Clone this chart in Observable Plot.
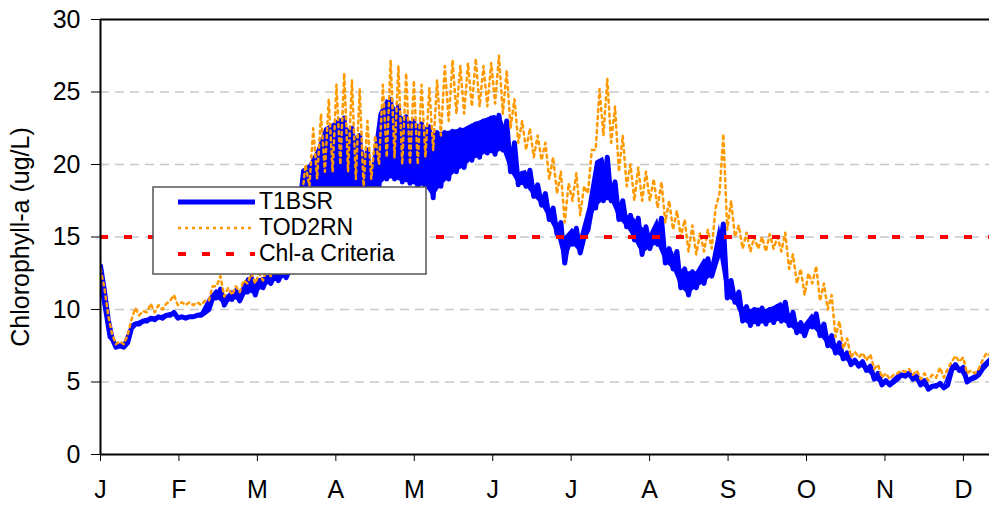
<!DOCTYPE html>
<html>
<head>
<meta charset="utf-8">
<script src="https://cdn.jsdelivr.net/npm/d3@7"></script>
<script src="https://cdn.jsdelivr.net/npm/@observablehq/plot@0.6"></script>
<style>
  html, body { margin: 0; padding: 0; background: white; }
  #chart { position: relative; width: 989px; height: 508px; overflow: hidden; }
</style>
</head>
<body>
<div id="chart"></div>
<script>
// "lo" is the reading at the day, "hi" the reading 1.5 days later (daily swing)
const days = [0,3,6,9,12,15,18,21,24,27,30,33,36,39,42,45,48,51,54,57,60,63,66,69,72,75,78,81,84,87,
  90,93,96,99,102,105,108,111,114,117,120,123,126,129,132,135,138,141,144,147,150,153,156,159,162,165,168,171,174,177,
  180,183,186,189,192,195,198,201,204,207,210,213,216,219,222,225,228,231,234,237,240,243,246,249,252,255,258,261,264,267,
  270,273,276,279,282,285,288,291,294,297,300,303,306,309,312,315,318,321,324,327,330,333,336,339,342,345];

// T1BSR (ug/L)
const blueLo = [13.0,9.3,7.4,7.4,8.7,9.0,9.2,9.3,9.4,9.6,
  9.4,9.4,9.5,9.6,10.0,10.8,10.3,10.7,10.6,11.2,
  11.0,11.5,11.8,12.0,12.2,12.6,16.5,17.5,18.0,18.5,
  18.0,18.5,18.0,17.5,17.0,17.5,18.5,19.0,19.0,18.8,
  18.7,18.5,18.5,17.7,18.5,19.0,19.5,19.8,20.3,20.5,
  20.8,20.7,21.0,19.5,18.6,18.5,17.8,17.2,16.2,15.2,
  13.2,14.5,13.9,15.5,17.0,17.5,17.5,16.2,15.7,14.8,
  13.8,14.2,14.5,13.2,12.8,11.5,11.0,11.5,11.8,12.3,
  14.0,10.8,10.5,9.2,8.9,9.0,9.0,9.1,9.2,8.9,
  8.4,8.2,8.8,8.2,7.5,7.0,6.6,6.2,6.1,5.8,
  5.2,4.8,4.8,5.2,5.4,5.2,4.8,4.5,4.7,4.6,
  5.8,5.8,5.0,5.3,5.9,6.5];
const blueHi = [11.3,8.0,7.5,7.7,9.0,9.2,9.4,9.5,9.6,9.8,
  9.5,9.5,9.6,9.8,10.8,11.4,10.8,11.3,11.2,12.2,
  12.0,12.2,12.4,12.6,12.8,14.5,19.6,20.0,21.0,22.5,
  22.8,23.2,22.5,22.0,21.0,19.5,23.5,24.5,24.0,23.3,
  23.0,22.8,22.6,22.2,22.2,22.3,22.4,22.5,22.8,23.0,
  23.2,23.4,23.0,21.5,19.4,19.6,18.6,18.0,17.0,16.0,
  15.0,15.6,15.0,17.0,20.2,20.5,18.8,17.5,16.5,16.3,
  15.7,15.2,16.3,14.2,14.0,12.8,12.6,12.6,13.5,13.2,
  15.9,12.0,11.2,10.2,10.0,10.1,10.0,10.2,10.5,9.8,
  9.1,9.0,9.7,9.0,8.2,7.7,7.0,6.5,6.4,6.1,
  5.6,5.1,5.0,5.5,5.6,5.4,5.1,4.7,4.9,4.8,
  6.2,6.0,5.2,5.5,6.2,6.7];

// TOD2RN (ug/L)
const orangeLo = [12.8,9.6,7.6,7.6,9.3,9.6,9.8,9.8,10.0,10.6,
  10.3,10.3,10.3,10.3,10.6,11.6,10.9,11.0,11.2,11.8,
  11.8,12.0,12.3,12.8,13.5,14.5,17.5,18.5,19.0,19.5,
  19.5,20.0,19.5,19.0,18.5,19.0,20.0,20.5,20.5,20.0,
  20.0,20.0,20.5,21.0,22.0,23.0,23.5,23.5,24.0,24.0,
  24.0,24.2,23.5,22.5,21.5,21.0,20.5,20.3,19.0,18.0,
  16.0,17.5,16.5,18.0,21.0,22.0,21.5,19.5,18.5,17.5,
  17.5,17.5,17.0,16.0,15.5,15.0,14.0,13.8,14.0,14.2,
  18.0,15.5,15.0,14.2,14.0,14.2,14.0,14.2,14.0,12.8,
  11.8,11.0,11.8,10.6,10.0,8.1,7.3,6.7,6.7,6.5,
  5.9,5.3,5.2,5.6,5.7,5.5,5.2,5.1,5.3,5.3,
  6.4,6.4,5.6,5.6,6.5,6.8];
const orangeHi = [11.5,8.3,7.8,8.2,10.1,9.9,10.4,10.3,10.4,11.0,
  10.5,10.5,10.5,10.6,11.6,12.3,11.5,11.6,12.0,12.5,
  12.5,12.8,13.2,14.0,15.0,17.0,20.0,22.5,23.5,24.5,
  25.5,26.3,25.8,25.2,23.0,22.0,25.5,27.2,26.8,26.3,
  25.8,25.5,25.3,25.8,26.8,27.2,26.8,27.0,27.3,26.8,
  27.0,27.5,26.5,24.5,23.0,22.5,22.0,21.5,20.5,19.5,
  18.7,19.4,18.5,21.0,25.2,25.9,24.0,22.0,20.0,19.8,
  19.5,19.0,18.8,17.5,16.8,16.2,15.8,15.3,15.5,17.0,
  22.1,17.5,15.8,15.3,15.0,15.0,15.2,15.0,15.3,13.8,
  12.8,12.5,13.0,11.8,11.0,9.2,8.0,7.1,7.0,6.9,
  6.2,5.6,5.5,5.8,5.9,5.8,5.6,5.5,6.0,5.9,
  6.8,6.7,5.8,5.9,7.0,7.2];

const criteria = [15];
const yTicks = [0, 5, 10, 15, 20, 25, 30];
const gridVals = [5, 10, 15, 20, 25];
const monthLabels = ["J","F","M","A","M","J","J","A","S","O","N","D"];
const monthTicks = monthLabels.map((m, i) => i * 365 / 12);
const legendLabels = ["T1BSR", "TOD2RN", "Chl-a Criteria"];

const BLUE = "#0000ff", ORANGE = "#ff9900", RED = "#ff0000";

// tables built from the arrays above
const blueBand = days.map((d, i) => ({day: d, lo: blueLo[i], hi: blueHi[i]}));
const blueRows = days.flatMap((d, i) => [{day: d, v: blueLo[i]}, {day: d + 1.5, v: blueHi[i]}]);
const orangeRows = days.flatMap((d, i) => [{day: d, v: orangeLo[i]}, {day: d + 1.5, v: orangeHi[i]}]);

const chart = Plot.plot({
  width: 989,
  height: 508,
  marginLeft: 100,
  marginRight: 0,
  marginTop: 19,
  marginBottom: 54,
  style: {fontFamily: "'Liberation Sans', Arial, sans-serif", fontSize: "25px", color: "black", background: "white", overflow: "visible"},
  x: {domain: [0, 344.7]},
  y: {domain: [0, 30]},
  marks: [
    Plot.ruleY(gridVals, {stroke: "#c8c8c8", strokeWidth: 1.5, strokeDasharray: "9,6"}),
    Plot.areaY(blueBand, {x: "day", y1: "lo", y2: "hi", fill: BLUE, clip: true}),
    Plot.line(blueRows, {x: "day", y: "v", stroke: BLUE, strokeWidth: 5, clip: true}),
    Plot.line(orangeRows, {x: "day", y: "v", stroke: ORANGE, strokeWidth: 2.5, strokeDasharray: "3,4", clip: true}),
    Plot.ruleY(criteria, {stroke: RED, strokeWidth: 4, strokeDasharray: "8,16"}),
    Plot.ruleY([30], {stroke: "black", strokeWidth: 2}),
    Plot.ruleY([0], {stroke: "black", strokeWidth: 2}),
    Plot.ruleX([0], {stroke: "black", strokeWidth: 2}),
    Plot.axisY({ticks: yTicks, tickSize: 9, tickPadding: 11, label: null, fontSize: 25}),
    Plot.axisX({ticks: monthTicks, tickFormat: d => monthLabels[Math.round(d / (365 / 12))], tickSize: 7, tickPadding: 19, label: null, fontSize: 25}),
    Plot.text(["Chlorophyll-a (ug/L)"], {text: d => d, frameAnchor: "left", textAnchor: "middle", dx: -80, rotate: -90, fontSize: 25})
  ]
});

const container = document.getElementById("chart");
container.appendChild(chart);

// Legend box overlaid on the plot
const ns = "http://www.w3.org/2000/svg";
const leg = document.createElementNS(ns, "svg");
leg.setAttribute("width", 276);
leg.setAttribute("height", 90);
leg.style.position = "absolute";
leg.style.left = "152px";
leg.style.top = "186px";
leg.style.fontFamily = "'Liberation Sans', Arial, sans-serif";
leg.style.fontSize = "23px";
const rect = document.createElementNS(ns, "rect");
rect.setAttribute("x", 1); rect.setAttribute("y", 1);
rect.setAttribute("width", 273); rect.setAttribute("height", 87);
rect.setAttribute("fill", "white"); rect.setAttribute("stroke", "#555"); rect.setAttribute("stroke-width", 1.5);
leg.appendChild(rect);
const legStyles = [
  {stroke: BLUE, width: 5, dash: null, ly: 16, ty: 23},
  {stroke: ORANGE, width: 2.5, dash: "3,4", ly: 42, ty: 49},
  {stroke: RED, width: 4, dash: "8,16", ly: 68, ty: 75}
];
legendLabels.forEach((lab, i) => {
  const s = legStyles[i];
  const ln = document.createElementNS(ns, "line");
  ln.setAttribute("x1", 26); ln.setAttribute("x2", 103);
  ln.setAttribute("y1", s.ly); ln.setAttribute("y2", s.ly);
  ln.setAttribute("stroke", s.stroke); ln.setAttribute("stroke-width", s.width);
  if (s.dash) ln.setAttribute("stroke-dasharray", s.dash);
  leg.appendChild(ln);
  const t = document.createElementNS(ns, "text");
  t.setAttribute("x", 107); t.setAttribute("y", s.ty);
  t.textContent = lab;
  leg.appendChild(t);
});
container.appendChild(leg);
</script>
</body>
</html>
